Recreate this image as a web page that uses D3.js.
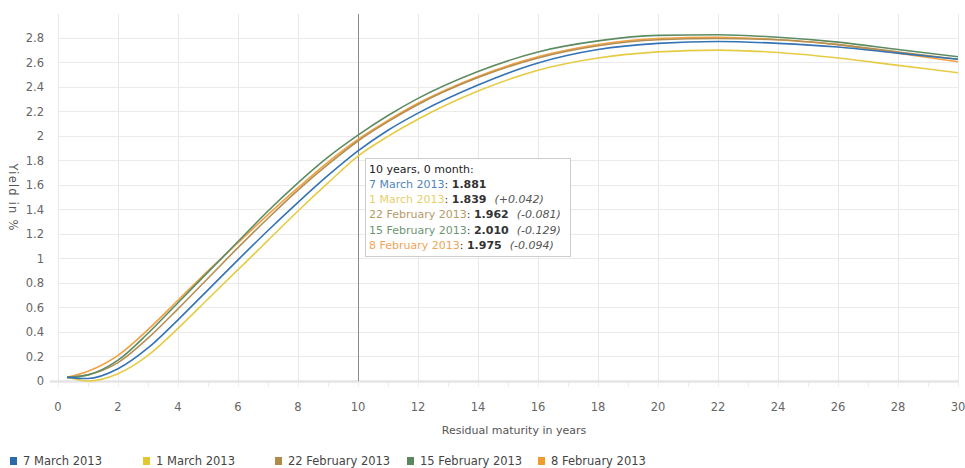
<!DOCTYPE html>
<html><head><meta charset="utf-8">
<script src="https://cdn.jsdelivr.net/npm/d3@7"></script>
<style>
body{margin:0;background:#fff;}
svg{display:block;font-family:"DejaVu Sans",Verdana,sans-serif;}
</style></head>
<body><div id="chart"></div>
<script>
// ---- data ----
const maturities = [0.3, 1, 2, 3, 4, 5, 6, 7, 8, 9, 10, 11, 12, 14, 16, 18, 20, 22, 24, 26, 28, 30];
const seriesNames = ["7 March 2013", "1 March 2013", "22 February 2013", "15 February 2013", "8 February 2013"];
const mar7  = [0.03, 0.02, 0.10, 0.27, 0.50, 0.745, 0.99, 1.23, 1.46, 1.68, 1.881, 2.05, 2.19, 2.42, 2.60, 2.71, 2.76, 2.775, 2.76, 2.73, 2.68, 2.63];
const mar1  = [0.03, 0.00, 0.06, 0.21, 0.43, 0.67, 0.91, 1.15, 1.39, 1.62, 1.839, 2.00, 2.14, 2.37, 2.54, 2.64, 2.69, 2.705, 2.685, 2.64, 2.58, 2.52];
const feb22 = [0.03, 0.05, 0.15, 0.35, 0.59, 0.84, 1.09, 1.33, 1.56, 1.77, 1.962, 2.12, 2.26, 2.48, 2.64, 2.74, 2.79, 2.80, 2.79, 2.75, 2.69, 2.63];
const feb15 = [0.03, 0.05, 0.17, 0.39, 0.64, 0.89, 1.14, 1.39, 1.62, 1.83, 2.010, 2.17, 2.31, 2.53, 2.69, 2.78, 2.825, 2.83, 2.81, 2.77, 2.71, 2.65];
const feb8  = [0.03, 0.08, 0.21, 0.42, 0.66, 0.90, 1.13, 1.36, 1.58, 1.79, 1.975, 2.13, 2.27, 2.49, 2.65, 2.75, 2.80, 2.81, 2.79, 2.75, 2.68, 2.61];
const seriesValues = [mar7, mar1, feb22, feb15, feb8];
const xTicks = d3.range(0, 31, 2);
const yTicks = [0, 0.2, 0.4, 0.6, 0.8, 1, 1.2, 1.4, 1.6, 1.8, 2, 2.2, 2.4, 2.6, 2.8];
const hoverMaturity = 10;
const tooltipTitle = "10 years, 0 month:";

// ---- styles ----
const lineColors  = ["#3473b5", "#e6cb45", "#b38f52", "#5e8c62", "#f2a043"];
const legendColors= ["#2d6aa9", "#e2c733", "#b08a48", "#5b875d", "#f29b2c"];
const labelColors = ["#4f86bf", "#e6cf6a", "#b69a68", "#6e9672", "#f0a458"];

const W = 965, H = 468;
const m = {left: 58, right: 7, top: 14, bottom: 87};
const svg = d3.select("#chart").append("svg").attr("width", W).attr("height", H);

const x = d3.scaleLinear().domain([0, 30]).range([m.left, W - m.right]);
const y = d3.scaleLinear().domain([0, 3]).range([H - m.bottom, m.top]);

// grid
const g = svg.append("g");
g.selectAll("line.v").data(xTicks).join("line")
  .attr("x1", d => x(d)).attr("x2", d => x(d))
  .attr("y1", y(3)).attr("y2", y(0))
  .attr("stroke", "#e8e8e8").attr("stroke-width", 1).attr("shape-rendering", "crispEdges");
g.selectAll("line.h").data(yTicks.filter(d => d > 0)).join("line")
  .attr("x1", x(0)).attr("x2", x(30))
  .attr("y1", d => y(d)).attr("y2", d => y(d))
  .attr("stroke", "#ebebeb").attr("stroke-width", 1).attr("shape-rendering", "crispEdges");
// minor ticks below axis
g.selectAll("line.mt").data(d3.range(0, 31, 1)).join("line")
  .attr("x1", d => x(d)).attr("x2", d => x(d))
  .attr("y1", y(0)).attr("y2", y(0) + 6)
  .attr("stroke", "#eeeeee").attr("shape-rendering", "crispEdges");
// zero line
g.append("line").attr("x1", x(0) - 8).attr("x2", x(30))
  .attr("y1", y(0) + 0.5).attr("y2", y(0) + 0.5)
  .attr("stroke", "#e4e4e4").attr("stroke-width", 2.5);

// y axis labels
svg.append("g").selectAll("text").data(yTicks).join("text")
  .attr("x", m.left - 14).attr("y", d => y(d) + 4)
  .attr("text-anchor", "end").attr("font-size", 11.5).attr("fill", "#666")
  .text(d => d3.format("~g")(d));
// x axis labels
svg.append("g").selectAll("text").data(xTicks).join("text")
  .attr("x", d => x(d)).attr("y", y(0) + 30)
  .attr("text-anchor", "middle").attr("font-size", 11.5).attr("fill", "#666")
  .text(d => d);

// axis titles
svg.append("text").attr("transform", `translate(9,${(y(0) + y(3)) / 2}) rotate(90)`)
  .attr("text-anchor", "middle").attr("font-size", 11.5).attr("letter-spacing", 1.2)
  .attr("fill", "#555").text("Yield in %");
svg.append("text").attr("x", (x(0) + x(30)) / 2 + 6).attr("y", y(0) + 53)
  .attr("text-anchor", "middle").attr("font-size", 11).attr("fill", "#555").text("Residual maturity in years");

// crosshair
svg.append("line").attr("x1", x(hoverMaturity) + 0.5).attr("x2", x(hoverMaturity) + 0.5)
  .attr("y1", y(3)).attr("y2", y(0))
  .attr("stroke", "#8a8a8a").attr("stroke-width", 1);

// lines
const line = d3.line().x((d, i) => x(maturities[i])).y(d => y(d)).curve(d3.curveMonotoneX);
const order = [1, 4, 2, 3, 0];
svg.append("g").selectAll("path").data(order).join("path")
  .attr("d", i => line(seriesValues[i]))
  .attr("fill", "none").attr("stroke", i => lineColors[i]).attr("stroke-width", 1.6);

// tooltip
const ti = maturities.indexOf(hoverMaturity);
const base = seriesValues[0][ti];
const tt = svg.append("g");
tt.append("rect").attr("x", x(hoverMaturity) + 7.5).attr("y", 158.5).attr("width", 205).attr("height", 98)
  .attr("fill", "rgba(255,255,255,0.92)").attr("stroke", "#cccccc");
const tx = x(hoverMaturity) + 11;
tt.append("text").attr("x", tx).attr("y", 173).attr("font-size", 11).attr("fill", "#222").text(tooltipTitle);
seriesNames.forEach((name, k) => {
  const v = seriesValues[k][ti];
  const t = tt.append("text").attr("x", tx).attr("y", 188 + k * 15.2).attr("font-size", 11);
  t.append("tspan").attr("fill", labelColors[k]).text(name);
  t.append("tspan").attr("fill", "#333").text(": ");
  t.append("tspan").attr("fill", "#333").attr("font-weight", "bold").text(d3.format(".3f")(v));
  if (k > 0) {
    const diff = base - v;
    t.append("tspan").attr("fill", "#555").attr("font-style", "italic")
      .attr("dx", 8).text("(" + (diff >= 0 ? "+" : "") + d3.format(".3f")(diff).replace("−", "-") + ")");
  }
});

// legend
const legendX = [10, 143, 275, 407, 538];
const lg = svg.append("g");
seriesNames.forEach((name, k) => {
  lg.append("rect").attr("x", legendX[k]).attr("y", 457).attr("width", 7).attr("height", 8).attr("fill", legendColors[k]);
  lg.append("text").attr("x", legendX[k] + 13).attr("y", 465).attr("font-size", 11.5).attr("fill", "#444").text(name);
});
</script></body></html>
